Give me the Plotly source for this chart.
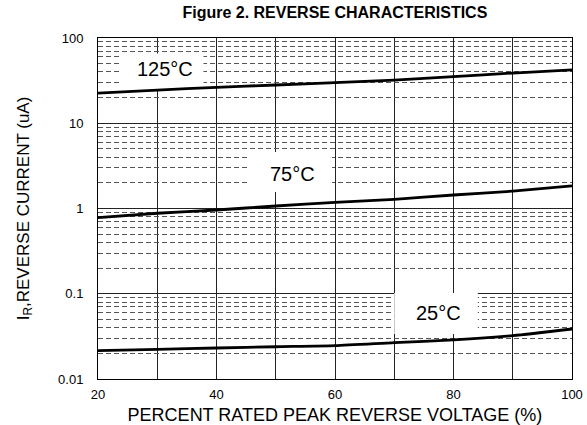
import math
import plotly.graph_objects as go

voltage_pct = [20, 30, 40, 50, 60, 70, 80, 90, 100]
ir_125c = [22.6, 24.5, 26.4, 28.1, 30.0, 32.1, 35.3, 38.8, 42.2]
ir_75c = [0.78, 0.88, 0.96, 1.07, 1.18, 1.28, 1.44, 1.60, 1.84]
ir_25c = [0.0215, 0.0223, 0.0231, 0.0239, 0.0246, 0.0267, 0.0287, 0.0322, 0.0386]

y_tickvals = [0.01, 0.1, 1, 10, 100]
y_ticktext = ["0.01", "0.1", "1", "10", "100"]
x_tickvals = [20, 40, 60, 80, 100]

labels = ["125°C", "75°C", "25°C"]
label_x = [31.3, 52.9, 77.4]
label_y = [43.0, 2.52, 0.060]
# white label boxes (x0, x1, y0, y1) in data units
boxes = [(23.7, 37.8, 25.2, 66.0), (45.5, 59.5, 1.56, 4.6), (70.0, 84.1, 0.0337, 0.102)]

font = "Liberation Sans, Arial, sans-serif"

fig = go.Figure()
for ys in (ir_125c, ir_75c, ir_25c):
    fig.add_trace(go.Scatter(x=voltage_pct, y=ys, mode="lines",
                             line=dict(color="black", width=2.8, shape="spline", smoothing=0.6),
                             showlegend=False, hoverinfo="skip"))

for (x0, x1, y0, y1) in boxes:
    fig.add_shape(type="rect", x0=x0, x1=x1, y0=y0, y1=y1, xref="x", yref="y",
                  fillcolor="white", line=dict(width=0), layer="between")

for t, lx, ly in zip(labels, label_x, label_y):
    fig.add_annotation(x=lx, y=math.log10(ly), xref="x", yref="y", text=t, showarrow=False,
                       font=dict(family=font, size=20, color="black"))

fig.update_layout(
    width=587, height=425,
    margin=dict(l=98, r=15, t=38, b=46),
    plot_bgcolor="white", paper_bgcolor="white",
    font=dict(family=font, color="black"),
    title=dict(text="<b>Figure 2. REVERSE CHARACTERISTICS</b>", x=0.5705, xanchor="center",
               y=0.97, yanchor="middle", font=dict(size=16, family=font, color="black")),
)
fig.update_xaxes(range=[20, 100], tickvals=x_tickvals, ticks="", showline=True, linecolor="black",
                 linewidth=1, mirror=True, showgrid=True, gridcolor="#222", gridwidth=1,
                 tickfont=dict(size=13), ticklabelstandoff=3, automargin=False,
                 minor=dict(dtick=10, showgrid=True, gridcolor="#222", gridwidth=1),
                 title=dict(text="PERCENT RATED PEAK REVERSE VOLTAGE (%)", font=dict(size=18), standoff=12),
                 zeroline=False)
fig.update_yaxes(type="log", range=[-2, 2], tickvals=y_tickvals, ticktext=y_ticktext, ticks="",
                 showline=True, linecolor="black", linewidth=1, mirror=True, showgrid=True,
                 gridcolor="#222", gridwidth=1, tickfont=dict(size=13), ticklabelstandoff=11,
                 automargin=False,
                 minor=dict(dtick="D1", showgrid=True, gridcolor="#555", gridwidth=1, griddash="5px,3px"),
                 title=dict(text="I<sub>R</sub>,REVERSE CURRENT (uA)", font=dict(size=17), standoff=24),
                 zeroline=False)

fig.write_html("out.html", config={"displayModeBar": False},
               post_script="document.body.style.margin='0';")
